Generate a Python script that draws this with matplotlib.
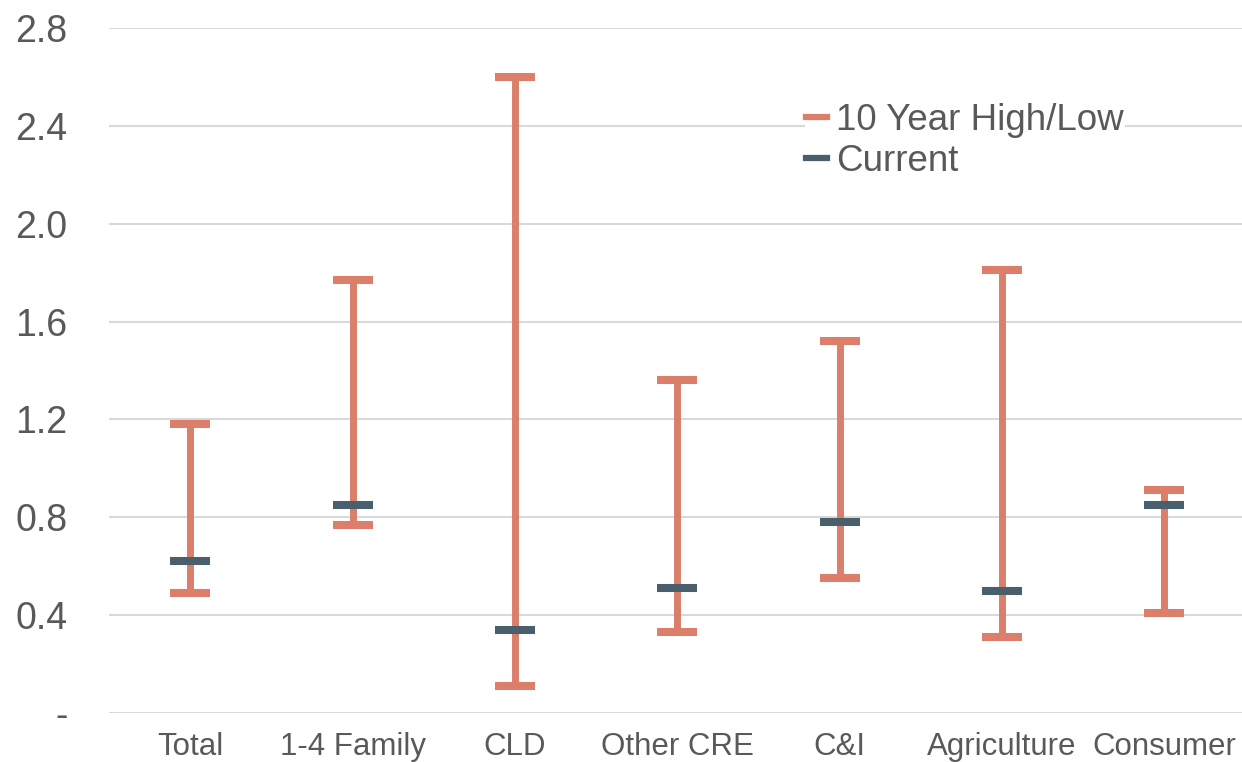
import matplotlib.pyplot as plt
from matplotlib.lines import Line2D
import numpy as np

plt.rcParams['font.family'] = ['Liberation Sans', 'DejaVu Sans']

# data
categories = ['Total', '1-4 Family', 'CLD', 'Other CRE', 'C&I', 'Agriculture', 'Consumer']
high = [1.18, 1.77, 2.60, 1.36, 1.52, 1.81, 0.91]
low = [0.49, 0.77, 0.11, 0.33, 0.55, 0.31, 0.41]
current = [0.62, 0.85, 0.34, 0.51, 0.78, 0.50, 0.85]

yticks = [0, 0.4, 0.8, 1.2, 1.6, 2.0, 2.4, 2.8]
ytick_labels = ['-', '0.4', '0.8', '1.2', '1.6', '2.0', '2.4', '2.8']

salmon = '#DB7F6B'
slate = '#4A5F6C'
grey_txt = '#595959'

fig = plt.figure(figsize=(12.42, 7.62), dpi=100)
ax = fig.add_axes([0.0878, 0.0643, 0.915, 0.8990])

x = np.arange(len(categories))

# high/low range
ax.vlines(x, low, high, color=salmon, linewidth=5.0, zorder=3)
ax.plot(x, high, linestyle='none', marker='_', markersize=29, markeredgewidth=5.8,
        color=salmon, zorder=3)
ax.plot(x, low, linestyle='none', marker='_', markersize=29, markeredgewidth=5.8,
        color=salmon, zorder=3)
# current value
ax.plot(x, current, linestyle='none', marker='_', markersize=29, markeredgewidth=5.8,
        color=slate, zorder=4)

ax.set_xlim(-0.5, len(categories) - 0.5)
ax.set_ylim(0, 2.8)
ax.set_yticks(yticks)
ax.set_yticklabels(ytick_labels)
ax.set_xticks(x)
ax.set_xticklabels(categories)

ax.tick_params(axis='y', length=0, labelsize=27, labelcolor=grey_txt, pad=30)
ax.tick_params(axis='x', length=0, labelsize=22.5, labelcolor=grey_txt, pad=14)
for lbl in ax.get_yticklabels():
    lbl.set_horizontalalignment('right')

ax.grid(axis='y', color='#D9D9D9', linewidth=1.5, zorder=0)
ax.set_axisbelow(True)
for s in ax.spines.values():
    s.set_visible(False)

handles = [Line2D([0], [0], color=salmon, linewidth=4.5),
           Line2D([0], [0], color=slate, linewidth=4.5)]
leg = ax.legend(handles, ['10 Year High/Low', 'Current'], loc='upper left',
                bbox_to_anchor=(0.612, 0.893), frameon=True, fontsize=26.5,
                handlelength=0.55, handletextpad=0.25, labelspacing=0.15,
                borderpad=0.05, borderaxespad=0)
leg.get_frame().set_facecolor('white')
leg.get_frame().set_edgecolor('none')
leg.get_frame().set_alpha(1)
for t in leg.get_texts():
    t.set_color(grey_txt)

fig.savefig('out.png', dpi=100)
